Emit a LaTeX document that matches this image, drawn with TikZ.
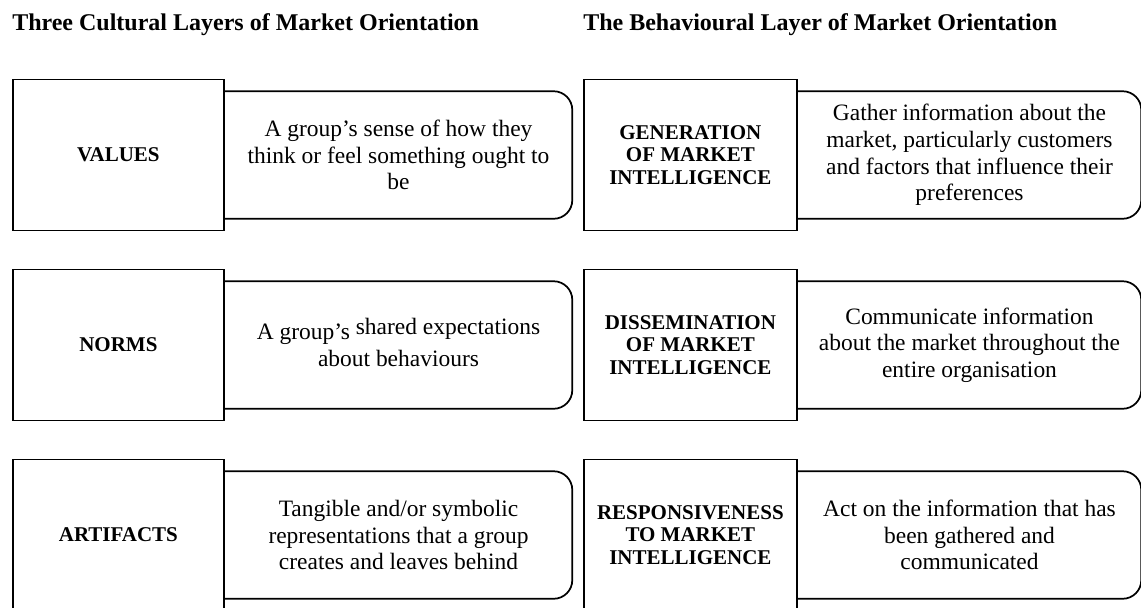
\documentclass[tikz,border=0pt]{standalone}
\usepackage{fontspec}
\setmainfont{Liberation Serif}
\usetikzlibrary{positioning}

\tikzset{
  layer/.style={draw, line width=1.3pt, fill=white, minimum width=158.25pt, minimum height=113.25pt, inner sep=2pt, align=center, font=\fontsize{15.75}{17}\selectfont\bfseries},
  desc/.style={minimum width=260.25pt, minimum height=95.25pt, inner sep=0pt, align=center, font=\fontsize{17.6}{20}\selectfont},
  outline/.style={line width=1.3pt, rounded corners=14pt},
  heading/.style={anchor=base west, inner sep=0pt, font=\fontsize{18}{20}\selectfont\bfseries}
}

\begin{document}
\begin{tikzpicture}[x=0.75pt, y=-0.75pt]
  \useasboundingbox (0,0) rectangle (1141,607);

  % Headings
  \node[heading] (head1) at (12,30) {Three Cultural Layers of Market Orientation};
  \node[heading] (head2) at (583,30) {The Behavioural Layer of Market Orientation};

  % Cultural layers
  \node[layer, anchor=west] (values) at (12,155) {VALUES};
  \node[desc, right=0pt of values] (valuesd) {A group’s sense of how they\\think or feel something ought to\\be};
  \node[layer, anchor=west] (norms) at (12,345) {NORMS};
  \node[desc, right=0pt of norms] (normsd) {A group’s \raisebox{4pt}[0pt][0pt]{shared expectations}\\about behaviours};
  \node[layer, anchor=west] (artifacts) at (12,535) {ARTIFACTS};
  \node[desc, right=0pt of artifacts] (artifactsd) {Tangible and/or symbolic\\representations that a group\\creates and leaves behind};

  % Behavioural layer
  \node[layer, minimum width=159.75pt, anchor=west] (gen) at (583,155) {GENERATION\\OF MARKET\\INTELLIGENCE};
  \node[desc, minimum width=257.25pt, right=0pt of gen] (gend) {Gather information about the\\market, particularly customers\\and factors that influence their\\preferences};
  \node[layer, minimum width=159.75pt, anchor=west] (diss) at (583,345) {DISSEMINATION\\OF MARKET\\INTELLIGENCE};
  \node[desc, minimum width=257.25pt, right=0pt of diss] (dissd) {Communicate information\\about the market throughout the\\entire organisation};
  \node[layer, minimum width=159.75pt, anchor=west] (resp) at (583,535) {RESPONSIVENESS\\TO MARKET\\INTELLIGENCE};
  \node[desc, minimum width=257.25pt, right=0pt of resp] (respd) {Act on the information that has\\been gathered and\\communicated};

  % Description outlines (rounded on the right only)
  \draw[outline] (valuesd.north west) -- (valuesd.north east) -- (valuesd.south east) -- (valuesd.south west);
  \draw[outline] (normsd.north west) -- (normsd.north east) -- (normsd.south east) -- (normsd.south west);
  \draw[outline] (artifactsd.north west) -- (artifactsd.north east) -- (artifactsd.south east) -- (artifactsd.south west);
  \draw[outline] (gend.north west) -- (gend.north east) -- (gend.south east) -- (gend.south west);
  \draw[outline] (dissd.north west) -- (dissd.north east) -- (dissd.south east) -- (dissd.south west);
  \draw[outline] (respd.north west) -- (respd.north east) -- (respd.south east) -- (respd.south west);
\end{tikzpicture}
\end{document}
